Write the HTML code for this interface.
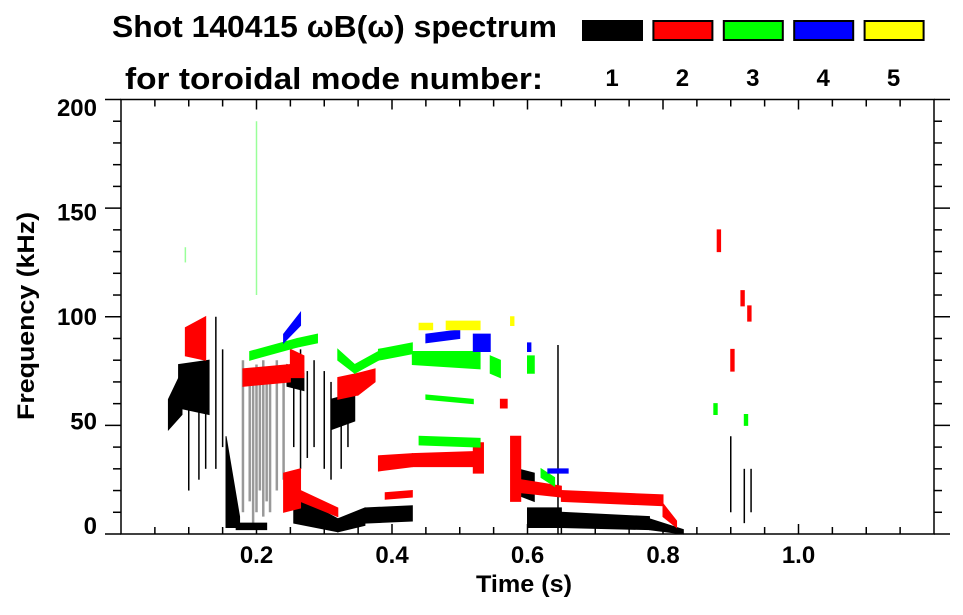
<!DOCTYPE html>
<html><head><meta charset="utf-8"><style>
html,body{margin:0;padding:0;background:#fff;}
svg{display:block;font-family:"Liberation Sans",sans-serif;font-weight:bold;}
</style></head><body>
<svg id="chart" width="963" height="615" viewBox="0 0 963 615" xmlns="http://www.w3.org/2000/svg">
<text x="112" y="37" font-size="31" textLength="445" lengthAdjust="spacingAndGlyphs">Shot 140415 ωB(ω) spectrum</text>
<text x="125" y="89" font-size="31" textLength="418" lengthAdjust="spacingAndGlyphs">for toroidal mode number:</text>
<g id="legend"></g>
<g id="marks"></g>
<g id="axes"></g>
<text x="476" y="592" font-size="24" textLength="96" lengthAdjust="spacingAndGlyphs">Time (s)</text>
<text transform="translate(34,420) rotate(-90)" font-size="24" textLength="208" lengthAdjust="spacingAndGlyphs">Frequency (kHz)</text>
</svg>
<script>
const modeNumbers = ['1','2','3','4','5'];
const modeColors = ['#000000','#ff0000','#00ff00','#0000ff','#ffff00'];
const xTicks = [0.2,0.4,0.6,0.8,1.0];
const xTickLabels = ['0.2','0.4','0.6','0.8','1.0'];
const yTicks = [0,50,100,150,200];
const yTickLabels = ['0','50','100','150','200'];
// blobs: [t0, t1, fLow0, fHigh0, fLow1, fHigh1]
const mode1Blobs = [
 [0.085,0.13,58,78,55,80],[0.07,0.09,48,62,55,75],[0.155,0.175,3,45,3,8],[0.17,0.215,2,5,2,5],
 [0.255,0.32,5,18,1,7],[0.32,0.36,1,7,4,12],[0.36,0.43,5,12,6,13],[0.31,0.345,48,62,52,65],
 [0.245,0.27,68,78,66,74],[0.6,0.65,3,12,3,12],[0.65,0.78,3,10,2,8],[0.78,0.83,2,7,0,2],[0.585,0.61,18,30,15,28]
];
const mode1Strands = [[0.1,20,75],[0.115,25,70],[0.125,30,80],[0.14,30,100],[0.15,40,85],[0.255,40,80],[0.265,30,85],
 [0.275,35,75],[0.285,40,80],[0.3,30,75],[0.31,25,70],[0.325,30,70],[0.335,40,65],[0.645,0,87],[0.9,10,45],[0.92,5,30],[0.93,10,30]];
const grayStrands = [[0.18,10,80],[0.19,15,75],[0.195,5,70],[0.2,10,78],[0.205,20,72],[0.21,8,80],[0.215,15,75],[0.22,10,70],[0.23,20,80],[0.24,25,75]];
const mode2Blobs = [
 [0.095,0.125,82,95,80,100],[0.18,0.25,68,76,70,78],[0.25,0.27,72,85,72,82],[0.32,0.35,62,72,64,74],[0.35,0.375,64,74,70,76],
 [0.24,0.265,10,28,12,30],[0.265,0.32,15,20,8,12],[0.38,0.43,29,36,31,37],[0.43,0.53,31,37,31,38],[0.52,0.535,28,42,28,42],
 [0.39,0.43,16,19,17,20],[0.59,0.65,19,25,17,22],[0.65,0.8,15,20,13,18],[0.8,0.82,8,14,3,6],[0.575,0.59,15,45,15,45],
 [0.88,0.885,130,140,130,140],[0.915,0.92,105,112,105,112],[0.925,0.93,98,105,98,105],[0.9,0.905,75,85,75,85],[0.56,0.57,58,62,58,62]
];
const mode3Blobs = [
 [0.19,0.26,80,84,86,90],[0.26,0.29,86,90,88,92],[0.32,0.345,80,85,74,78],[0.345,0.38,74,78,80,84],[0.38,0.43,80,85,83,88],
 [0.43,0.53,78,84,76,84],[0.545,0.56,74,82,72,80],[0.6,0.61,74,82,74,82],[0.44,0.53,41,45,40,44],[0.45,0.52,62,64,60,62],
 [0.62,0.64,26,30,22,26],[0.875,0.88,55,60,55,60],[0.92,0.925,50,55,50,55]
];
const mode4Blobs = [[0.24,0.265,88,92,96,102],[0.45,0.5,88,92,90,94],[0.52,0.545,84,92,84,92],[0.6,0.605,84,88,84,88],[0.63,0.66,28,30,28,30]];
const mode5Blobs = [[0.44,0.46,94,97,94,97],[0.48,0.53,94,98,94,98],[0.575,0.58,96,100,96,100]];
const faintGreenStrands = [[0.2,110,190],[0.095,125,132]];

const NS='http://www.w3.org/2000/svg';
const X0=121, X1=934, Y0=534, Y1=99.5;
function xs(t){return X0+(X1-X0)*t/1.2;}
function ys(f){return Y0-(Y0-Y1)*f/200;}
function mk(tag,attrs,parent){const e=document.createElementNS(NS,tag);for(const k in attrs)e.setAttribute(k,attrs[k]);parent.appendChild(e);return e;}
const marks=document.getElementById('marks'), axes=document.getElementById('axes'), legend=document.getElementById('legend');

function drawBlobs(arr,color,name){
 arr.forEach(b=>{
  const p=mk('polygon',{points:[xs(b[0])+','+ys(b[2]),xs(b[0])+','+ys(b[3]),xs(b[1])+','+ys(b[5]),xs(b[1])+','+ys(b[4])].join(' '),fill:color,stroke:color,'stroke-width':1},marks);
  
  
 });
}
function drawStrands(arr,color,w,name){
 arr.forEach(s=>{
  const l=mk('line',{x1:xs(s[0]),x2:xs(s[0]),y1:ys(s[1]),y2:ys(s[2]),stroke:color,'stroke-width':w},marks);
  
  
 });
}
drawStrands(faintGreenStrands,'#9f9',1.5,'mode3-faint-strand');
drawStrands(grayStrands,'#999',2.5,'gray-strand');
drawStrands(mode1Strands,'#000',1.5,'mode1-strand');
drawBlobs(mode1Blobs,modeColors[0],'mode1-blob');
drawBlobs(mode2Blobs,modeColors[1],'mode2-blob');
drawBlobs(mode3Blobs,modeColors[2],'mode3-blob');
drawBlobs(mode4Blobs,modeColors[3],'mode4-blob');
drawBlobs(mode5Blobs,modeColors[4],'mode5-blob');

// legend
modeNumbers.forEach((m,i)=>{
 const x=582+i*70.4;
 const r=mk('rect',{x:x+1,y:21,width:59,height:19,fill:modeColors[i],stroke:'#000','stroke-width':2},legend);
 
 
 const t=mk('text',{x:x+30,y:86,'font-size':24,'text-anchor':'middle'},legend);
 t.textContent=m;
 
 
});

// axes frame
const frame=mk('rect',{x:X0,y:Y1,width:X1-X0,height:Y0-Y1,fill:'none',stroke:'#000','stroke-width':1.5},axes);


for(let k=1;k<24;k++){
 const t=k*0.05, major=(k%4===0), len=major?10:7;
 mk('line',{x1:xs(t),x2:xs(t),y1:Y0,y2:Y0-len,stroke:'#000','stroke-width':1.5},axes);
 mk('line',{x1:xs(t),x2:xs(t),y1:Y1,y2:Y1+len,stroke:'#000','stroke-width':1.5},axes);
}
xTicks.forEach((t,i)=>{
 const l=mk('text',{x:xs(t),y:563,'font-size':24,'text-anchor':'middle'},axes);
 l.textContent=xTickLabels[i];
 
 
});
for(let k=0;k<=20;k++){
 const f=k*10, major=(k%5===0), len=major?16:8;
 mk('line',{x1:X0-len,x2:X0,y1:ys(f),y2:ys(f),stroke:'#000','stroke-width':1.5},axes);
 mk('line',{x1:X1,x2:X1+len,y1:ys(f),y2:ys(f),stroke:'#000','stroke-width':1.5},axes);
}
yTicks.forEach((f,i)=>{
 const cy=107+(200-f)/200*418;
 const l=mk('text',{x:97,y:cy+9,'font-size':24,'text-anchor':'end'},axes);
 l.textContent=yTickLabels[i];
 
 
});
</script>
</body></html>
